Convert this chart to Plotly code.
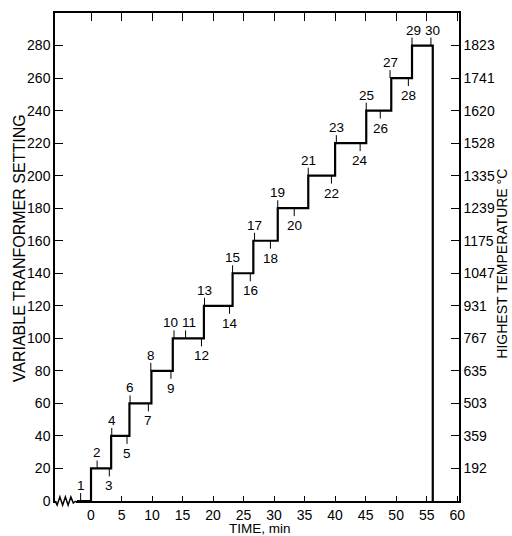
import plotly.graph_objects as go

# ---- data ----
START_TIME = -2.3
STEP_TIMES = [0.0, 3.3, 6.3, 9.9, 13.4, 18.5, 23.2, 26.6, 30.6, 35.6, 40.0, 45.1, 49.2, 52.6]
SETTINGS = [20, 40, 60, 80, 100, 120, 140, 160, 180, 200, 220, 240, 260, 280]
END_TIME = 56.0

LABEL_NUM = list(range(1, 31))
LABEL_X = [-1.7, 1.0, 3.0, 3.4, 5.9, 6.4, 9.4, 9.8, 13.1, 13.6, 15.5, 18.1, 18.6, 22.7, 23.2,
           26.1, 26.8, 29.4, 30.6, 33.3, 35.6, 39.4, 40.2, 44.1, 45.1, 47.4, 49.0, 52.0, 52.6, 55.7]
LABEL_TEXT_X = [-1.7, 1.0, 3.0, 3.4, 5.9, 6.4, 9.4, 9.8, 13.1, 13.1, 16.1, 18.1, 18.6, 22.7, 23.2,
                26.1, 26.8, 29.4, 30.6, 33.3, 35.6, 39.4, 40.2, 44.1, 45.1, 47.4, 49.0, 52.0, 52.8, 55.9]
LABEL_LEVEL = [0, 20, 20, 40, 40, 60, 60, 80, 80, 100, 100, 100, 120, 120, 140,
               140, 160, 160, 180, 180, 200, 200, 220, 220, 240, 240, 260, 260, 280, 280]
LABEL_SIDE = ["a", "a", "b", "a", "b", "a", "b", "a", "b", "a", "a", "b", "a", "b", "a",
              "b", "a", "b", "a", "b", "a", "b", "a", "b", "a", "b", "a", "b", "a", "a"]

X_TICKS = list(range(0, 61, 5))
Y_TICKS = list(range(0, 281, 20))
TEMP_TICKVALS = list(range(20, 281, 20))
TEMP_LABELS = ["192", "359", "503", "635", "767", "931", "1047", "1175", "1239", "1335",
               "1528", "1620", "1741", "1823"]

X_RANGE = [-5.9, 60.3]
Y_RANGE = [0, 300]

# axis-break squiggle (in minutes / relative amplitude)
SQ_X = [-5.9, -5.55, -5.1, -4.65, -4.2, -3.75, -3.3, -2.9, -2.5]
SQ_Y = [0.0, -1.0, 1.0, -1.0, 1.0, -1.0, 1.0, -0.5, 0.0]

NUMF = "Liberation Sans, Arial, sans-serif"
SANS = "Liberation Sans, Arial, sans-serif"

xs = [START_TIME] + STEP_TIMES + [END_TIME]
ys = [0] + SETTINGS + [0]

fig = go.Figure()
fig.add_trace(go.Scatter(x=xs, y=ys, mode="lines", line=dict(color="black", width=2.2, shape="hv"),
                         showlegend=False, hoverinfo="skip"))

# little leader ticks for the numbered points
TICK_UNITS = 4.9
tx, ty = [], []
for x, lv, side in zip(LABEL_X, LABEL_LEVEL, LABEL_SIDE):
    tx += [x, x, None]
    ty += [lv, lv + (TICK_UNITS if side == "a" else -TICK_UNITS), None]
fig.add_trace(go.Scatter(x=tx, y=ty, mode="lines", line=dict(color="black", width=1),
                         showlegend=False, hoverinfo="skip"))

# dummy traces for secondary axes
fig.add_trace(go.Scatter(x=[None], y=[None], xaxis="x2", yaxis="y", showlegend=False))
fig.add_trace(go.Scatter(x=[None], y=[None], xaxis="x", yaxis="y2", showlegend=False))

annotations = []
for n, x, lv, side in zip(LABEL_NUM, LABEL_TEXT_X, LABEL_LEVEL, LABEL_SIDE):
    above = side == "a"
    annotations.append(dict(
        x=x, y=lv, xref="x", yref="y", text=str(n), showarrow=False,
        yanchor="bottom" if above else "top", yshift=7 if above else -9,
        font=dict(family=NUMF, size=13.5, color="black"), borderpad=0))

annotations.append(dict(text="VARIABLE TRANFORMER SETTING", xref="paper", yref="paper",
                        x=-0.089, y=0.518, textangle=-90, showarrow=False,
                        xanchor="center", yanchor="middle",
                        font=dict(family=SANS, size=16, color="black")))
annotations.append(dict(text="HIGHEST TEMPERATURE °C", xref="paper", yref="paper",
                        x=1.106, y=0.486, textangle=-90, showarrow=False,
                        xanchor="center", yanchor="middle",
                        font=dict(family=SANS, size=14, color="black")))
annotations.append(dict(text="TIME, min", xref="paper", yref="paper",
                        x=0.508, y=-0.056, showarrow=False,
                        xanchor="center", yanchor="middle", borderpad=0,
                        font=dict(family=SANS, size=13.5, color="black")))

# squiggle in paper coords
def px(x):
    return (x - X_RANGE[0]) / (X_RANGE[1] - X_RANGE[0])

amp = 0.0085
path = "M " + " L ".join(f"{px(x):.5f},{y*amp:.5f}" for x, y in zip(SQ_X, SQ_Y))
shapes = [
    dict(type="rect", xref="paper", yref="paper", x0=0.004, x1=px(SQ_X[-1]), y0=-0.006, y1=0.006,
         fillcolor="white", line=dict(width=0), layer="above"),
    dict(type="path", xref="paper", yref="paper", path=path, line=dict(color="black", width=1.5),
         layer="above"),
]

tickfont = dict(family=NUMF, size=14, color="black")
common = dict(ticks="inside", tickwidth=1, tickcolor="black", showline=True, linecolor="black",
              linewidth=1.5, showgrid=False, zeroline=False, automargin=False)
fig.update_layout(
    width=512, height=536, margin=dict(l=55, r=53, t=13, b=35, autoexpand=False),
    paper_bgcolor="white", plot_bgcolor="white",
    xaxis=dict(range=X_RANGE, tickvals=X_TICKS, ticklen=5, tickfont=tickfont, **common),
    xaxis2=dict(range=X_RANGE, tickvals=X_TICKS, ticklen=8, showticklabels=False,
                overlaying="x", side="top", anchor="y", **common),
    yaxis=dict(range=Y_RANGE, tickvals=Y_TICKS, ticklen=8, tickfont=tickfont, **common),
    yaxis2=dict(range=Y_RANGE, tickvals=TEMP_TICKVALS, ticktext=TEMP_LABELS, ticklen=8,
                tickfont=tickfont, overlaying="y", side="right", anchor="x", **common),
    annotations=annotations, shapes=shapes, showlegend=False,
)

fig.write_html("out.html", config={"displayModeBar": False},
               post_script="document.body.style.margin='0px';document.body.style.overflow='hidden';")
